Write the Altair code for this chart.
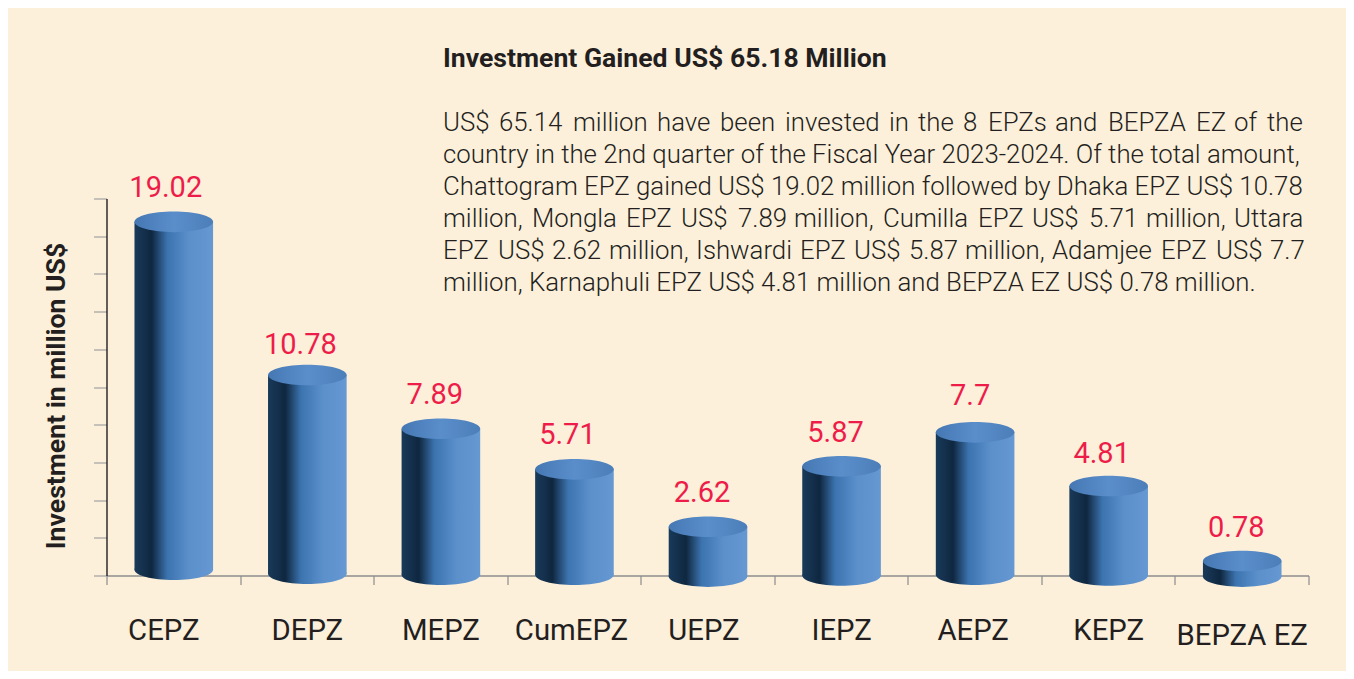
import altair as alt
import pandas as pd

categories = ["CEPZ", "DEPZ", "MEPZ", "CumEPZ", "UEPZ", "IEPZ", "AEPZ", "KEPZ", "BEPZA EZ"]
values = [19.02, 10.78, 7.89, 5.71, 2.62, 5.87, 7.7, 4.81, 0.78]
bases = [0.31, 0.10, 0.04, 0.04, -0.06, 0.0, 0.04, 0.0, -0.06]
heading = "Investment Gained US$ 65.18 Million"
paragraph = [
    "US$ 65.14 million have been invested in the 8 EPZs and BEPZA EZ of the",
    "country in the 2nd quarter of the Fiscal Year 2023-2024. Of the total amount,",
    "Chattogram EPZ gained US$ 19.02 million followed by Dhaka EPZ US$ 10.78",
    "million, Mongla EPZ US$ 7.89 million, Cumilla EPZ US$ 5.71 million, Uttara",
    "EPZ US$ 2.62 million, Ishwardi EPZ US$ 5.87 million, Adamjee EPZ US$ 7.7",
    "million, Karnaphuli EPZ US$ 4.81 million and BEPZA EZ US$ 0.78 million.",
]

# layout only: label nudges and the word starts of the justified lines, in pixels
cat_nudge = [-10, 0, 0, -3, -4, 0, -2, 0, 0]
cat_dy = [0, 0, 0, 0, 0, 0, 0, 0, 5]
val_nudge = [-8, -7, -6, -7, -6, -6, -5, -7, -6]
val_dy = [0, 4, 0, 0, 0, 1, -2, 2, 1]
justified = {
    0: [443, 499, 573, 657, 720, 785, 889, 918, 963, 988, 1055, 1108, 1196, 1234, 1267],
    3: [443, 532, 626, 681, 738, 794, 883, 978, 1032, 1089, 1146, 1234],
    4: [443, 498, 552, 609, 696, 800, 854, 909, 965, 1052, 1161, 1216, 1270],
}

FONT = "Roboto"
INK = "#231f20"
df = pd.DataFrame({"cat": categories, "value": values, "base": bases})
df["pos"] = [i + 0.5 for i in range(len(categories))]

x_axis = alt.Axis(values=list(range(10)), labels=False, title=None, grid=False,
                  tickSize=9, tickColor="#8c8c8c", tickWidth=1.2, translate=0,
                  domainColor="#8c8c8c", domainWidth=1.5)
x_enc = alt.X("pos:Q", scale=alt.Scale(domain=[0, 9], nice=False, zero=False, padding=0), axis=x_axis)
y_scale = alt.Scale(domain=[-0.027, 20.25], nice=False, zero=False)

side = alt.Gradient(
    gradient="linear", x1=0, x2=1, y1=0, y2=0,
    stops=[
        alt.GradientStop(offset=0, color="#193a5a"),
        alt.GradientStop(offset=0.22, color="#0f2740"),
        alt.GradientStop(offset=0.42, color="#3c74b0"),
        alt.GradientStop(offset=0.7, color="#5b90cb"),
        alt.GradientStop(offset=1, color="#6698d2"),
    ],
)
cap = alt.Gradient(
    gradient="linear", x1=0, x2=1, y1=0, y2=0,
    stops=[
        alt.GradientStop(offset=0, color="#4578b3"),
        alt.GradientStop(offset=0.5, color="#5a8ecb"),
        alt.GradientStop(offset=1, color="#4c7fb9"),
    ],
)
ELLIPSE = "M-1,0A1,0.262 0 1,1 1,0A1,0.262 0 1,1 -1,0Z"
CYL = 78.6

frame = alt.Chart(df).mark_point(opacity=0).encode(
    x=x_enc,
    y=alt.Y("value:Q", scale=alt.Scale(domain=[0, 20], nice=False, zero=False),
            axis=alt.Axis(values=list(range(0, 21, 2)), labels=False, grid=False,
                          tickSize=13, tickColor="#a0a0a0", tickWidth=1.2, translate=0,
                          domainColor=INK, domainWidth=1.4,
                          title="Investment in million US$", titleFont=FONT,
                          titleFontSize=26.6, titleFontWeight="bold", titleColor=INK,
                          titleX=-36, titleY=197)),
)

bottoms = alt.Chart(df).mark_point(shape=ELLIPSE, size=CYL ** 2, filled=True, fill=side,
                                   opacity=1, stroke=None).encode(
    x=x_enc, y=alt.Y("base:Q", scale=y_scale, axis=None))
bodies = alt.Chart(df).mark_bar(size=CYL, fill=side, orient="vertical").encode(
    x=x_enc, y=alt.Y("value:Q", scale=y_scale, axis=None), y2="base:Q")
tops = alt.Chart(df).mark_point(shape=ELLIPSE, size=CYL ** 2, filled=True, fill=cap,
                                opacity=1, stroke=None).encode(
    x=x_enc, y=alt.Y("value:Q", scale=y_scale, axis=None))
cylinders = alt.layer(bottoms, bodies, tops)

val_layers = []
cat_layers = []
for c, dx, dy, cdx, cdy in zip(categories, val_nudge, val_dy, cat_nudge, cat_dy):
    row = alt.Chart(df).transform_filter(alt.datum.cat == c)
    val_layers.append(row.mark_text(font=FONT, fontSize=29, color="#ee1c48", baseline="alphabetic",
                                    align="center", dx=dx, dy=-25 + dy).encode(
        x=x_enc, y=alt.Y("value:Q", scale=y_scale, axis=None), text=alt.Text("value:Q")))
    cat_layers.append(row.mark_text(font=FONT, fontSize=29.3, color=INK, baseline="alphabetic",
                                    align="center", dx=cdx, dy=cdy).encode(
        x=x_enc, y=alt.value(640 - 199), text="cat:N"))


def label(text, px, py, **style):
    """A piece of annotation text placed by its page position."""
    return alt.Chart(pd.DataFrame({"t": [text]})).mark_text(
        font=FONT, color=INK, align="left", baseline="alphabetic", **style
    ).encode(x=alt.value(px - 107), y=alt.value(py - 199), text="t:N")


text_layers = [label(heading, 443, 67, fontSize=26.6, fontWeight="bold")]
for i, line in enumerate(paragraph):
    py = 131 + 32 * i
    if i in justified:
        for word, px in zip(line.split(" "), justified[i]):
            text_layers.append(label(word, px, py, fontSize=25.8, fontWeight=300))
    else:
        text_layers.append(label(line, 443, py, fontSize=25.8, fontWeight=300))

chart = alt.layer(frame, cylinders, *val_layers, *cat_layers, *text_layers).resolve_scale(
    y="independent"
).properties(
    width=1202, height=377, background="#fdf0db",
    padding={"left": 99, "top": 191, "right": 37, "bottom": 95},
    autosize=alt.AutoSizeParams(type="none"),
).configure_view(stroke=None)

chart.save("out.html", embed_options={"renderer": "svg", "actions": False})
